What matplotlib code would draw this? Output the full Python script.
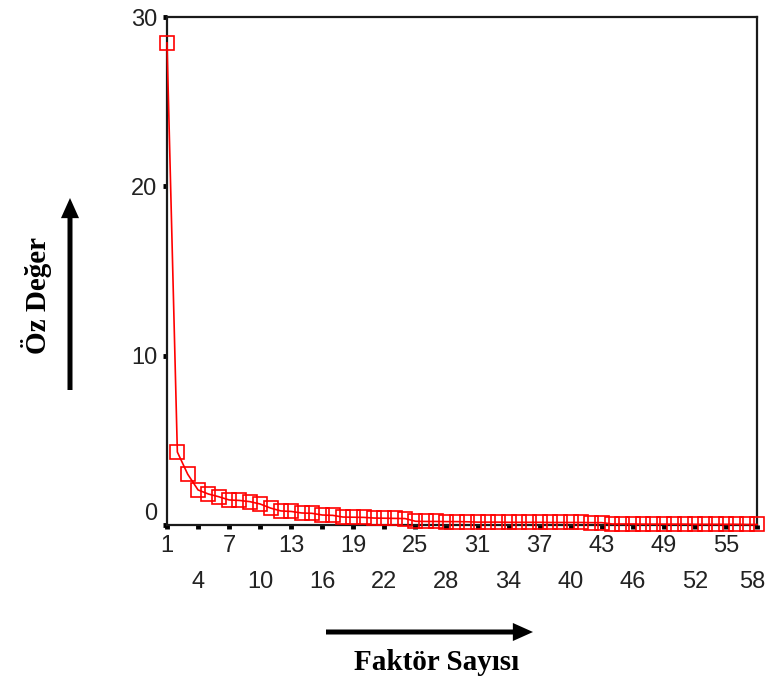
import matplotlib
matplotlib.use("Agg")
import matplotlib.pyplot as plt
from matplotlib.patches import FancyArrowPatch
from matplotlib.transforms import ScaledTranslation

# Data
factors = list(range(1, 59))
eigenvalues = [28.47, 4.31, 3.00, 2.07, 1.83, 1.67, 1.48, 1.45, 1.38, 1.24,
               1.00, 0.83, 0.80, 0.71, 0.69, 0.59, 0.57, 0.47, 0.46, 0.45,
               0.41, 0.40, 0.39, 0.38, 0.22, 0.21, 0.21, 0.20, 0.20, 0.19,
               0.17, 0.17, 0.17, 0.16, 0.16, 0.16, 0.16, 0.15, 0.15, 0.15,
               0.15, 0.14, 0.14, 0.06, 0.06, 0.06, 0.05, 0.05, 0.05, 0.05,
               0.05, 0.04, 0.04, 0.04, 0.04, 0.04, 0.03, 0.03]
xtick_values = list(range(1, 59, 3))
ytick_values = [0, 10, 20, 30]
ylabel_text = "Öz Değer"
xlabel_text = "Faktör Sayısı"

W, H = 766, 679
fig = plt.figure(figsize=(W / 100, H / 100), dpi=100)
ax = fig.add_axes([167 / W, 1 - 525 / H, (757 - 167) / W, (525 - 17) / H])

ax.plot(factors, eigenvalues, color="#ff0000", lw=1.2, marker="s",
        markersize=9.5, markerfacecolor="none", markeredgecolor="#ff0000",
        markeredgewidth=1.2, clip_on=False, zorder=3)

ax.set_xlim(1, 58)
ax.set_ylim(0, 30)

ax.set_xticks(xtick_values)
ax.set_xticklabels([str(v) if i % 2 == 0 else "\n" + str(v)
                    for i, v in enumerate(xtick_values)],
                   fontfamily="Liberation Sans", fontsize=17, color="#222222",
                   linespacing=1.85)
ax.set_yticks(ytick_values)
ax.set_yticklabels([str(v) for v in ytick_values],
                   fontfamily="Liberation Sans", fontsize=17, color="#222222")
ax.tick_params(axis="both", direction="out", length=3, width=3.5,
               color="black", pad=4)

# raise the "0" label slightly, as in the reference
lbl0 = ax.get_yticklabels()[0]
lbl0.set_transform(lbl0.get_transform() + ScaledTranslation(0, 0.14, fig.dpi_scale_trans))
# keep the last x label inside the picture
lblN = ax.get_xticklabels()[-1]
lblN.set_transform(lblN.get_transform() + ScaledTranslation(-0.05, 0, fig.dpi_scale_trans))

for s in ax.spines.values():
    s.set_linewidth(1.6)
    s.set_color("#1a1a1a")

# Arrows
def px(x, y):
    return (x / W, 1 - y / H)

style = "simple,head_length=1.45,head_width=1.3,tail_width=0.36"
fig.add_artist(FancyArrowPatch(px(70, 390), px(70, 198), transform=fig.transFigure,
                               arrowstyle=style, mutation_scale=10,
                               color="black", lw=0, shrinkA=0, shrinkB=0))
fig.add_artist(FancyArrowPatch(px(326, 632), px(533, 632), transform=fig.transFigure,
                               arrowstyle=style, mutation_scale=10,
                               color="black", lw=0, shrinkA=0, shrinkB=0))

fig.text(*px(36, 295), ylabel_text, rotation=90, ha="center", va="center",
         fontfamily="Liberation Serif", fontweight="bold", fontsize=21)
fig.text(*px(437, 662), xlabel_text, ha="center", va="center",
         fontfamily="Liberation Serif", fontweight="bold", fontsize=21)

fig.savefig("out.png", dpi=100)
